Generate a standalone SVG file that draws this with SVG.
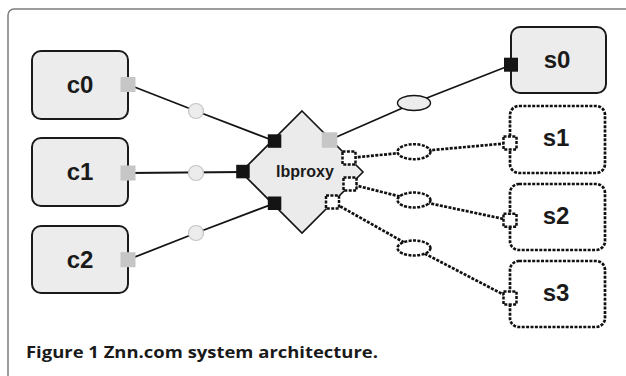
<svg xmlns="http://www.w3.org/2000/svg" width="626" height="376" viewBox="0 0 626 376">
  <style>
    .box { fill: #ececec; stroke: #1a1a1a; stroke-width: 2; }
    .dbox { fill: #ffffff; stroke: #111111; stroke-width: 2.7; stroke-dasharray: 3 1.4; }
    .lbl { font-family: "Liberation Sans", Arial, sans-serif; font-weight: bold; font-size: 24px; fill: #1a1a1a; text-anchor: middle; }
    .gport { fill: #c6c6c6; }
    .bport { fill: #141414; }
    .dport { fill: #ffffff; stroke: #111111; stroke-width: 2.5; stroke-dasharray: 3 1.4; }
    .link { fill: none; stroke: #141414; stroke-width: 1.8; }
    .dlink { fill: none; stroke: #111111; stroke-width: 2.7; stroke-dasharray: 3 1.4; }
    .dot { fill: #ececec; stroke: #c4c4c4; stroke-width: 1.2; }
    .oval { fill: #ececec; stroke: #141414; stroke-width: 1.4; }
    .doval { fill: #ffffff; stroke: #111111; stroke-width: 2.5; stroke-dasharray: 3 1.4; }
  </style>

  <!-- figure frame -->
  <rect x="8" y="9" width="700" height="500" rx="6" fill="#ffffff" stroke="#7c7c7c" stroke-width="1.5"/>

  <!-- connectors -->
  <g id="connectors">
    <polyline class="link" points="128,84.5 196,111 274.5,141"/>
    <polyline class="link" points="128,173 243,172"/>
    <polyline class="link" points="128,259.7 196,233 274.5,203.3"/>
    <polyline class="link" points="329.5,140 414,103 511,65"/>
    <polyline class="dlink" points="349,158 414,151.7 510,143"/>
    <polyline class="dlink" points="350,184 414,200 510,220.3"/>
    <polyline class="dlink" points="332.5,202 414,248 510,298"/>
    <circle class="dot" cx="196" cy="111" r="7.5"/>
    <circle class="dot" cx="196" cy="173" r="7.5"/>
    <circle class="dot" cx="196" cy="233" r="7.5"/>
    <ellipse class="oval" cx="414" cy="103" rx="16.5" ry="7.5"/>
    <ellipse class="doval" cx="414" cy="151.7" rx="16.5" ry="7.5"/>
    <ellipse class="doval" cx="414" cy="200" rx="16.5" ry="7.5"/>
    <ellipse class="doval" cx="414" cy="248" rx="16.5" ry="7.5"/>
  </g>

  <!-- clients -->
  <g id="c0">
    <rect class="box" x="32" y="51" width="96" height="68" rx="9"/>
    <text class="lbl" x="80" y="92.5">c0</text>
    <rect class="gport" x="120.5" y="77" width="15" height="15"/>
  </g>
  <g id="c1">
    <rect class="box" x="32" y="138" width="96" height="68" rx="9"/>
    <text class="lbl" x="80" y="180">c1</text>
    <rect class="gport" x="120.5" y="165.5" width="15" height="15"/>
  </g>
  <g id="c2">
    <rect class="box" x="32" y="226" width="96" height="67" rx="9"/>
    <text class="lbl" x="80" y="267.5">c2</text>
    <rect class="gport" x="120.5" y="252.2" width="15" height="15"/>
  </g>

  <!-- load balancer -->
  <g id="lbproxy">
    <polygon points="302,111 363,172 302,233 241,172" fill="#ebebeb" stroke="#141414" stroke-width="1.6"/>
    <text x="305" y="177" font-family="Liberation Sans, Arial, sans-serif" font-weight="bold" font-size="16" fill="#1a1a1a" text-anchor="middle">lbproxy</text>
    <rect class="bport" x="267.8" y="134.3" width="13.5" height="13.5"/>
    <rect class="bport" x="236.2" y="164.8" width="13.5" height="13.5"/>
    <rect class="bport" x="267.8" y="196.5" width="13.5" height="13.5"/>
    <rect class="gport" x="321.8" y="132.3" width="15.5" height="15.5"/>
    <rect class="dport" x="342.5" y="151.5" width="13" height="13"/>
    <rect class="dport" x="343.5" y="177.5" width="13" height="13"/>
    <rect class="dport" x="326" y="195.5" width="13" height="13"/>
  </g>

  <!-- servers -->
  <g id="s0">
    <rect class="box" x="511" y="27" width="95" height="66" rx="9"/>
    <text class="lbl" x="557" y="67.5">s0</text>
    <rect class="bport" x="504" y="57.7" width="14" height="14"/>
  </g>
  <g id="s1">
    <rect class="dbox" x="510" y="106" width="95" height="67" rx="9"/>
    <text class="lbl" x="556" y="146">s1</text>
    <rect class="dport" x="503.5" y="136.5" width="13" height="13"/>
  </g>
  <g id="s2">
    <rect class="dbox" x="510" y="184" width="95" height="66" rx="9"/>
    <text class="lbl" x="556" y="224">s2</text>
    <rect class="dport" x="503.5" y="213.8" width="13" height="13"/>
  </g>
  <g id="s3">
    <rect class="dbox" x="510" y="261" width="95" height="66" rx="9"/>
    <text class="lbl" x="556" y="301">s3</text>
    <rect class="dport" x="503.5" y="291.5" width="13" height="13"/>
  </g>

  <!-- caption -->
  <text x="26" y="358" font-family="Open Sans, Liberation Sans, sans-serif" font-size="16" font-weight="bold" fill="#1a1a1a" textLength="352" lengthAdjust="spacingAndGlyphs">Figure 1 Znn.com system architecture.</text>
</svg>
